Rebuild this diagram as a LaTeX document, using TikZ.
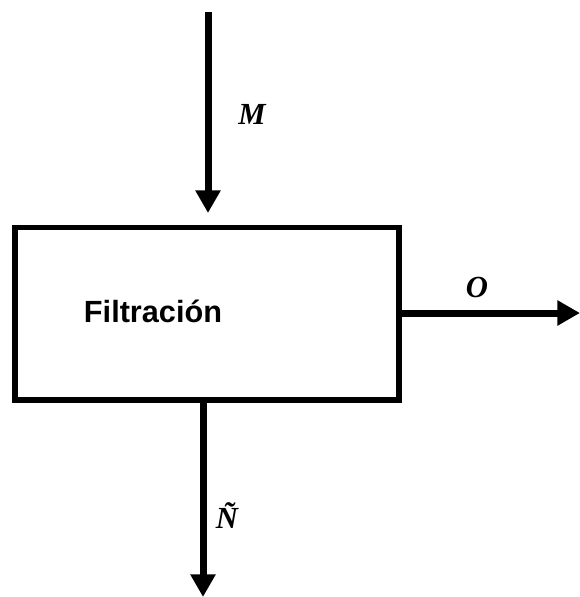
\documentclass[tikz,border=0pt]{standalone}
\usepackage{fontspec}
\setmainfont{Liberation Serif}
\newfontfamily\arialfont{Liberation Sans}
\usetikzlibrary{arrows.meta}
\tikzset{
  flow/.style={line width=5.25pt,-{Triangle[length=17pt,width=18pt]}},
  boxstyle/.style={draw,line width=4pt,minimum width=288pt,minimum height=129.4pt,inner sep=0pt},
  lbl/.style={font=\fontsize{23}{26}\selectfont\bfseries\itshape,inner sep=0pt}
}
\begin{document}
\begin{tikzpicture}[x=0.75pt,y=-0.75pt]
\useasboundingbox (0,0) rectangle (580,597);
\node[boxstyle] (box) at (207,313.75) {};
\node[font=\arialfont\fontsize{23}{26}\selectfont\bfseries,inner sep=0pt] (txt) at (153,311) {Filtración};
\coordinate (mstart) at (208,12);
\coordinate (mend) at (208,213);
\coordinate (nstart) at (203,402);
\coordinate (nend) at (203,597);
\coordinate (ostart) at (401,313);
\coordinate (oend) at (580,313);
\draw[flow] (mstart) -- (mend);
\draw[flow] (nstart) -- (nend);
\draw[flow] (ostart) -- (oend);
\node[lbl] (m) at (252,114) {M};
\node[lbl] (o) at (477,287) {O};
\node[lbl] (n) at (227,516) {Ñ};
\end{tikzpicture}
\end{document}
